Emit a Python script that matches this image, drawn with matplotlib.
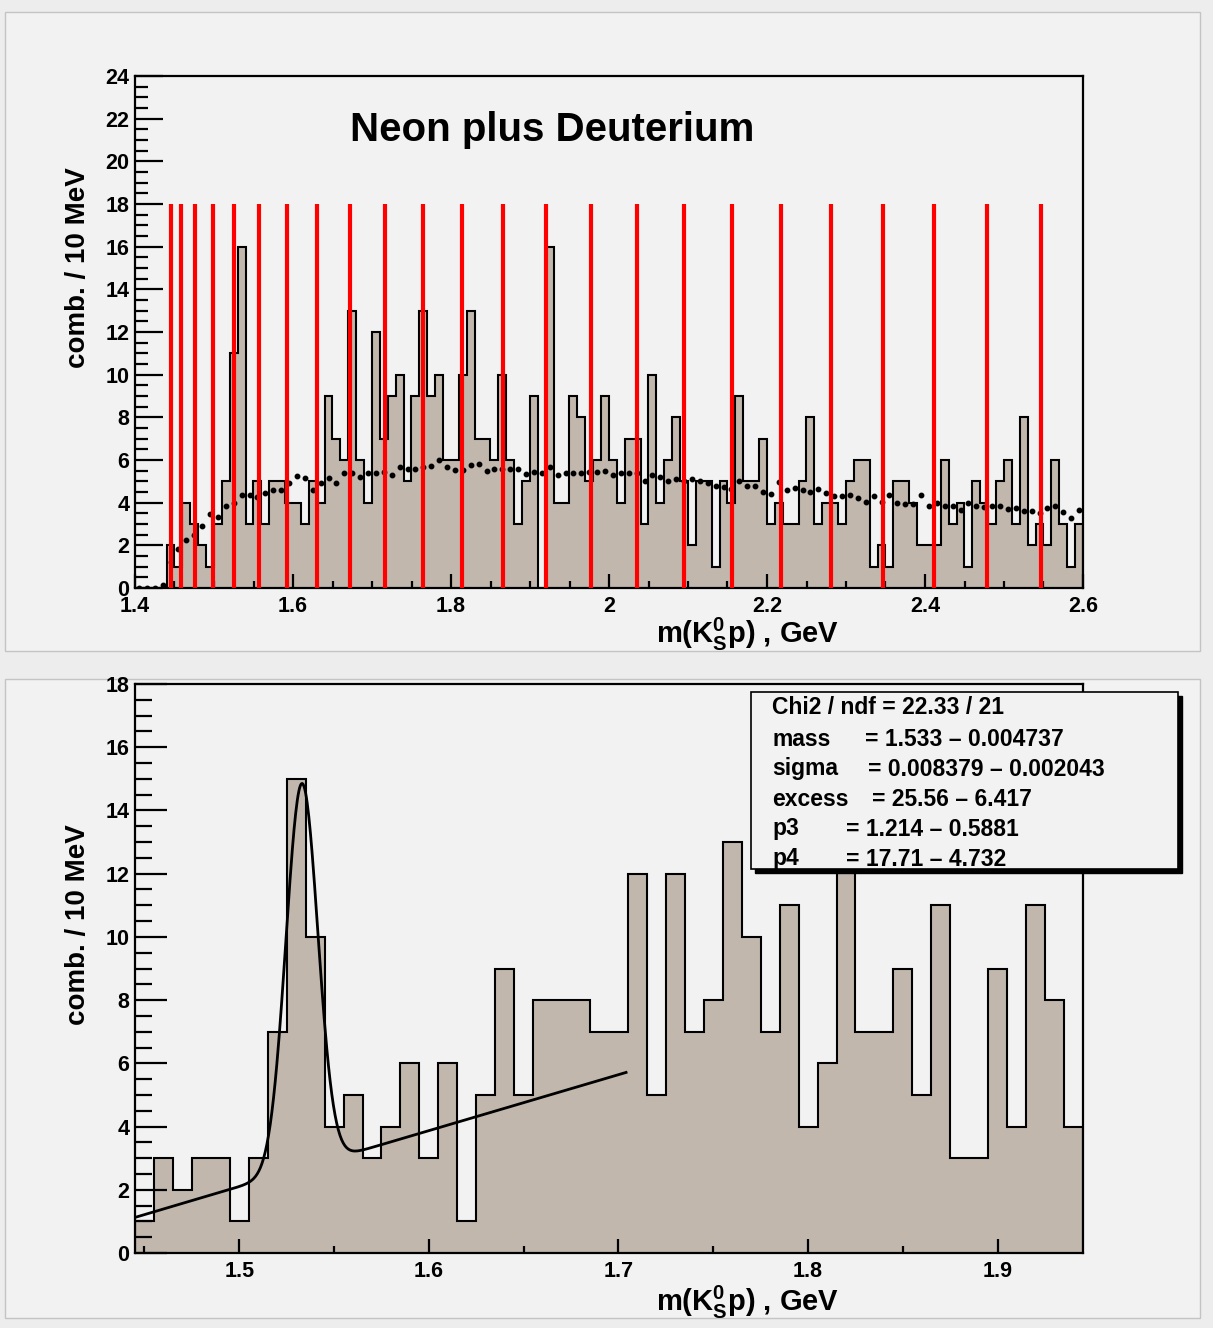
import numpy as np
import matplotlib

matplotlib.use("Agg")
import matplotlib.pyplot as plt
from matplotlib.patches import Rectangle

plt.rcParams["font.family"] = ["Liberation Sans", "DejaVu Sans"]
plt.rcParams["font.weight"] = "bold"
plt.rcParams["mathtext.fontset"] = "custom"
plt.rcParams["mathtext.rm"] = "Liberation Sans:bold"
plt.rcParams["mathtext.it"] = "Liberation Sans:bold"
plt.rcParams["mathtext.bf"] = "Liberation Sans:bold"

# ---- top panel: m(K0s p), 10 MeV bins from 1.40 to 2.60
top_lo, top_bin = 1.40, 0.01
top_counts = [
    0, 0, 0, 0, 2, 1, 4, 3, 2, 1,
    3, 5, 11, 16, 3, 5, 3, 5, 5, 4,
    4, 3, 5, 4, 9, 7, 6, 13, 6, 4,
    12, 7, 9, 10, 5, 9, 13, 9, 10, 6,
    6, 10, 13, 7, 7, 6, 10, 6, 3, 5,
    9, 0, 16, 4, 4, 9, 8, 5, 6, 9,
    6, 4, 7, 7, 3, 10, 4, 6, 8, 5,
    2, 5, 5, 1, 5, 4, 9, 5, 5, 7,
    3, 4, 3, 3, 5, 8, 3, 4, 4, 3,
    5, 6, 6, 1, 2, 1, 5, 5, 4, 2,
    2, 2, 6, 3, 4, 1, 5, 4, 3, 5,
    6, 3, 8, 2, 3, 2, 6, 3, 1, 3,
]
# background estimate (dotted), one value per bin
top_bkg = [
    0.0, 0.0, 0.0, 0.15, 1.2, 1.85, 2.25, 2.5, 2.9, 3.45,
    3.35, 3.85, 4.0, 4.35, 4.35, 4.25, 4.45, 4.6, 4.6, 4.9,
    5.25, 5.15, 4.6, 4.9, 5.15, 4.9, 5.4, 5.4, 5.2, 5.4,
    5.4, 5.45, 5.3, 5.65, 5.6, 5.6, 5.65, 5.7, 6.0, 5.65,
    5.55, 5.55, 5.75, 5.8, 5.5, 5.6, 5.6, 5.6, 5.6, 5.35,
    5.45, 5.4, 5.65, 5.3, 5.4, 5.4, 5.4, 5.45, 5.45, 5.5,
    5.3, 5.4, 5.4, 5.4, 5.0, 5.3, 5.2, 5.0, 5.1, 5.0,
    5.1, 5.0, 4.9, 4.8, 4.75, 4.65, 5.0, 4.8, 4.8, 4.5,
    4.4, 4.95, 4.6, 4.7, 4.6, 4.5, 4.65, 4.45, 4.3, 4.3,
    4.35, 4.2, 4.05, 4.3, 4.05, 4.35, 4.0, 3.95, 3.95, 4.35,
    3.85, 4.0, 3.85, 3.85, 3.65, 4.0, 3.85, 3.8, 3.85, 3.85,
    3.7, 3.75, 3.6, 3.6, 3.5, 3.75, 3.85, 3.55, 3.3, 3.65,
]
# resolution-bin boundaries (red lines)
red_lines = [
    1.4452, 1.4582, 1.4763, 1.4987, 1.5253, 1.5566, 1.5920, 1.6308,
    1.6725, 1.7168, 1.7642, 1.8143, 1.8662, 1.9206, 1.9768, 2.0351,
    2.0949, 2.1553, 2.2174, 2.2810, 2.3465, 2.4118, 2.4785, 2.5465,
]
red_top = 18

# ---- bottom panel: 10 MeV bins from 1.445 to 1.945
bot_lo, bot_bin = 1.445, 0.01
bot_counts = [
    1, 3, 2, 3, 3, 1, 3, 7, 15, 10,
    4, 5, 3, 4, 6, 3, 6, 1, 5, 9,
    5, 8, 8, 8, 7, 7, 12, 5, 12, 7,
    8, 13, 10, 7, 11, 4, 6, 13, 7, 7,
    9, 5, 11, 3, 3, 9, 4, 11, 8, 4,
]
# fit: gaussian + linear background
fit_mass, fit_sigma, fit_excess = 1.533, 0.008379, 25.56
fit_p3, fit_p4, fit_x0 = 1.214, 17.71, 1.45
fit_range = (1.445, 1.704)
stat_names = ["mass", "sigma", "excess", "p3", "p4"]
stat_values = ["= 1.533 \u2013 0.004737", "= 0.008379 \u2013 0.002043",
               "= 25.56 \u2013 6.417", "= 1.214 \u2013 0.5881", "= 17.71 \u2013 4.732"]
stat_chi2 = "Chi2 / ndf = 22.33 / 21"

FILL = "#c1b7ad"
PAD = "#f2f2f2"
W, H = 1213, 1328


def fx(px):
    return px / W


def fy(py):
    return 1 - py / H


def pad_rect(fig, x0, y0, x1, y1):
    fig.patches.append(Rectangle((fx(x0), fy(y1)), fx(x1 - x0), (y1 - y0) / H,
                                 transform=fig.transFigure, facecolor=PAD,
                                 edgecolor="#c4c4c4", linewidth=1.0, zorder=-5))


def style_axes(ax, ymajor_len=20, yminor_len=9.5):
    ax.set_facecolor(PAD)
    for side in ax.spines.values():
        side.set_linewidth(1.6)
    ax.tick_params(axis="both", which="both", direction="in", width=1.6,
                   top=False, right=False, labelsize=15.5)
    ax.tick_params(axis="y", which="major", length=ymajor_len, pad=4)
    ax.tick_params(axis="y", which="minor", length=yminor_len)
    ax.tick_params(axis="x", which="major", length=10, pad=6)
    ax.tick_params(axis="x", which="minor", length=5)
    for lab in ax.get_xticklabels() + ax.get_yticklabels():
        lab.set_fontweight("bold")


def fmt(v):
    return f"{v:g}"


fig = plt.figure(figsize=(W / 100, H / 100), dpi=100)
fig.patch.set_facecolor("#ededed")
pad_rect(fig, 5, 12, 1200, 651)
pad_rect(fig, 5, 679, 1200, 1318)

# ---------------- top panel
ax1 = fig.add_axes([fx(135), fy(588), fx(948), 512 / H])
top_edges = top_lo + top_bin * np.arange(len(top_counts) + 1)
top_centers = 0.5 * (top_edges[:-1] + top_edges[1:])
ax1.stairs(top_counts, top_edges, fill=True, color=FILL, zorder=1)
ax1.stairs(top_counts, top_edges, color="black", linewidth=1.5, baseline=0, zorder=2)
ax1.plot(top_centers, top_bkg, "o", color="black", markersize=3.2, zorder=3)
ax1.vlines(red_lines, 0, red_top, color="#ff0000", linewidth=3.0, zorder=4)
ax1.set_xlim(top_edges[0], top_edges[-1])
ax1.set_ylim(0, 24)
xt = np.arange(1.4, 2.61, 0.2)
ax1.set_xticks(xt)
ax1.set_xticklabels([fmt(round(v, 2)) for v in xt])
ax1.set_xticks(np.arange(1.4, 2.601, 0.05), minor=True)
ax1.set_yticks(np.arange(0, 25, 2))
ax1.set_yticks(np.arange(0, 24.01, 0.5), minor=True)
style_axes(ax1)
ax1.text(0.44, 0.894, "Neon plus Deuterium", transform=ax1.transAxes,
         ha="center", va="center", fontsize=29, fontweight="bold")

# ---------------- bottom panel
ax2 = fig.add_axes([fx(135), fy(1253), fx(948), 569 / H])
bot_edges = bot_lo + bot_bin * np.arange(len(bot_counts) + 1)
ax2.stairs(bot_counts, bot_edges, fill=True, color=FILL, zorder=1)
ax2.stairs(bot_counts, bot_edges, color="black", linewidth=1.5, baseline=0, zorder=2)
xf = np.linspace(fit_range[0], fit_range[1], 600)
yf = (fit_excess * bot_bin / (np.sqrt(2 * np.pi) * fit_sigma)
      * np.exp(-0.5 * ((xf - fit_mass) / fit_sigma) ** 2)
      + fit_p3 + fit_p4 * (xf - fit_x0))
ax2.plot(xf, yf, color="black", linewidth=2.0, zorder=3)
ax2.set_xlim(bot_edges[0], bot_edges[-1])
ax2.set_ylim(0, 18)
xt2 = np.arange(1.5, 1.91, 0.1)
ax2.set_xticks(xt2)
ax2.set_xticklabels([fmt(round(v, 2)) for v in xt2])
ax2.set_xticks(np.arange(1.45, 1.95, 0.05), minor=True)
ax2.set_yticks(np.arange(0, 19, 2))
ax2.set_yticks(np.arange(0, 18.01, 0.5), minor=True)
style_axes(ax2, ymajor_len=23, yminor_len=12)

# axis titles
xlab = "m(K$^{0}_{S}$p) , GeV"
ylab = "comb. / 10 MeV"
fig.text(fx(839), fy(634), xlab, ha="right", va="center", fontsize=21, fontweight="bold")
fig.text(fx(839), fy(1302), xlab, ha="right", va="center", fontsize=21, fontweight="bold")
fig.text(fx(78), fy(268), ylab, ha="center", va="center", rotation=90, fontsize=20,
         fontweight="bold")
fig.text(fx(78), fy(925), ylab, ha="center", va="center", rotation=90, fontsize=20,
         fontweight="bold")

# stats box with shadow
bx0, by0, bx1, by1 = 751, 692, 1178, 869
fig.patches.append(Rectangle((fx(bx0 + 4), fy(by1 + 4)), fx(bx1 - bx0), (by1 - by0) / H,
                             transform=fig.transFigure, facecolor="black",
                             edgecolor="black", zorder=5))
fig.patches.append(Rectangle((fx(bx0), fy(by1)), fx(bx1 - bx0), (by1 - by0) / H,
                             transform=fig.transFigure, facecolor=PAD,
                             edgecolor="black", linewidth=1.2, zorder=6))
fig.text(fx(772), fy(708), stat_chi2, ha="left", va="center", fontsize=16.5,
         fontweight="bold", zorder=7)
eq_x = [865, 868, 872, 846, 846]
for i, (name, val) in enumerate(zip(stat_names, stat_values)):
    yy = 739 + 30 * i
    fig.text(fx(772), fy(yy), name, ha="left", va="center", fontsize=16.5,
             fontweight="bold", zorder=7)
    fig.text(fx(eq_x[i]), fy(yy), val, ha="left", va="center", fontsize=16.5,
             fontweight="bold", zorder=7)

fig.savefig("out.png", dpi=100, facecolor=fig.get_facecolor())
